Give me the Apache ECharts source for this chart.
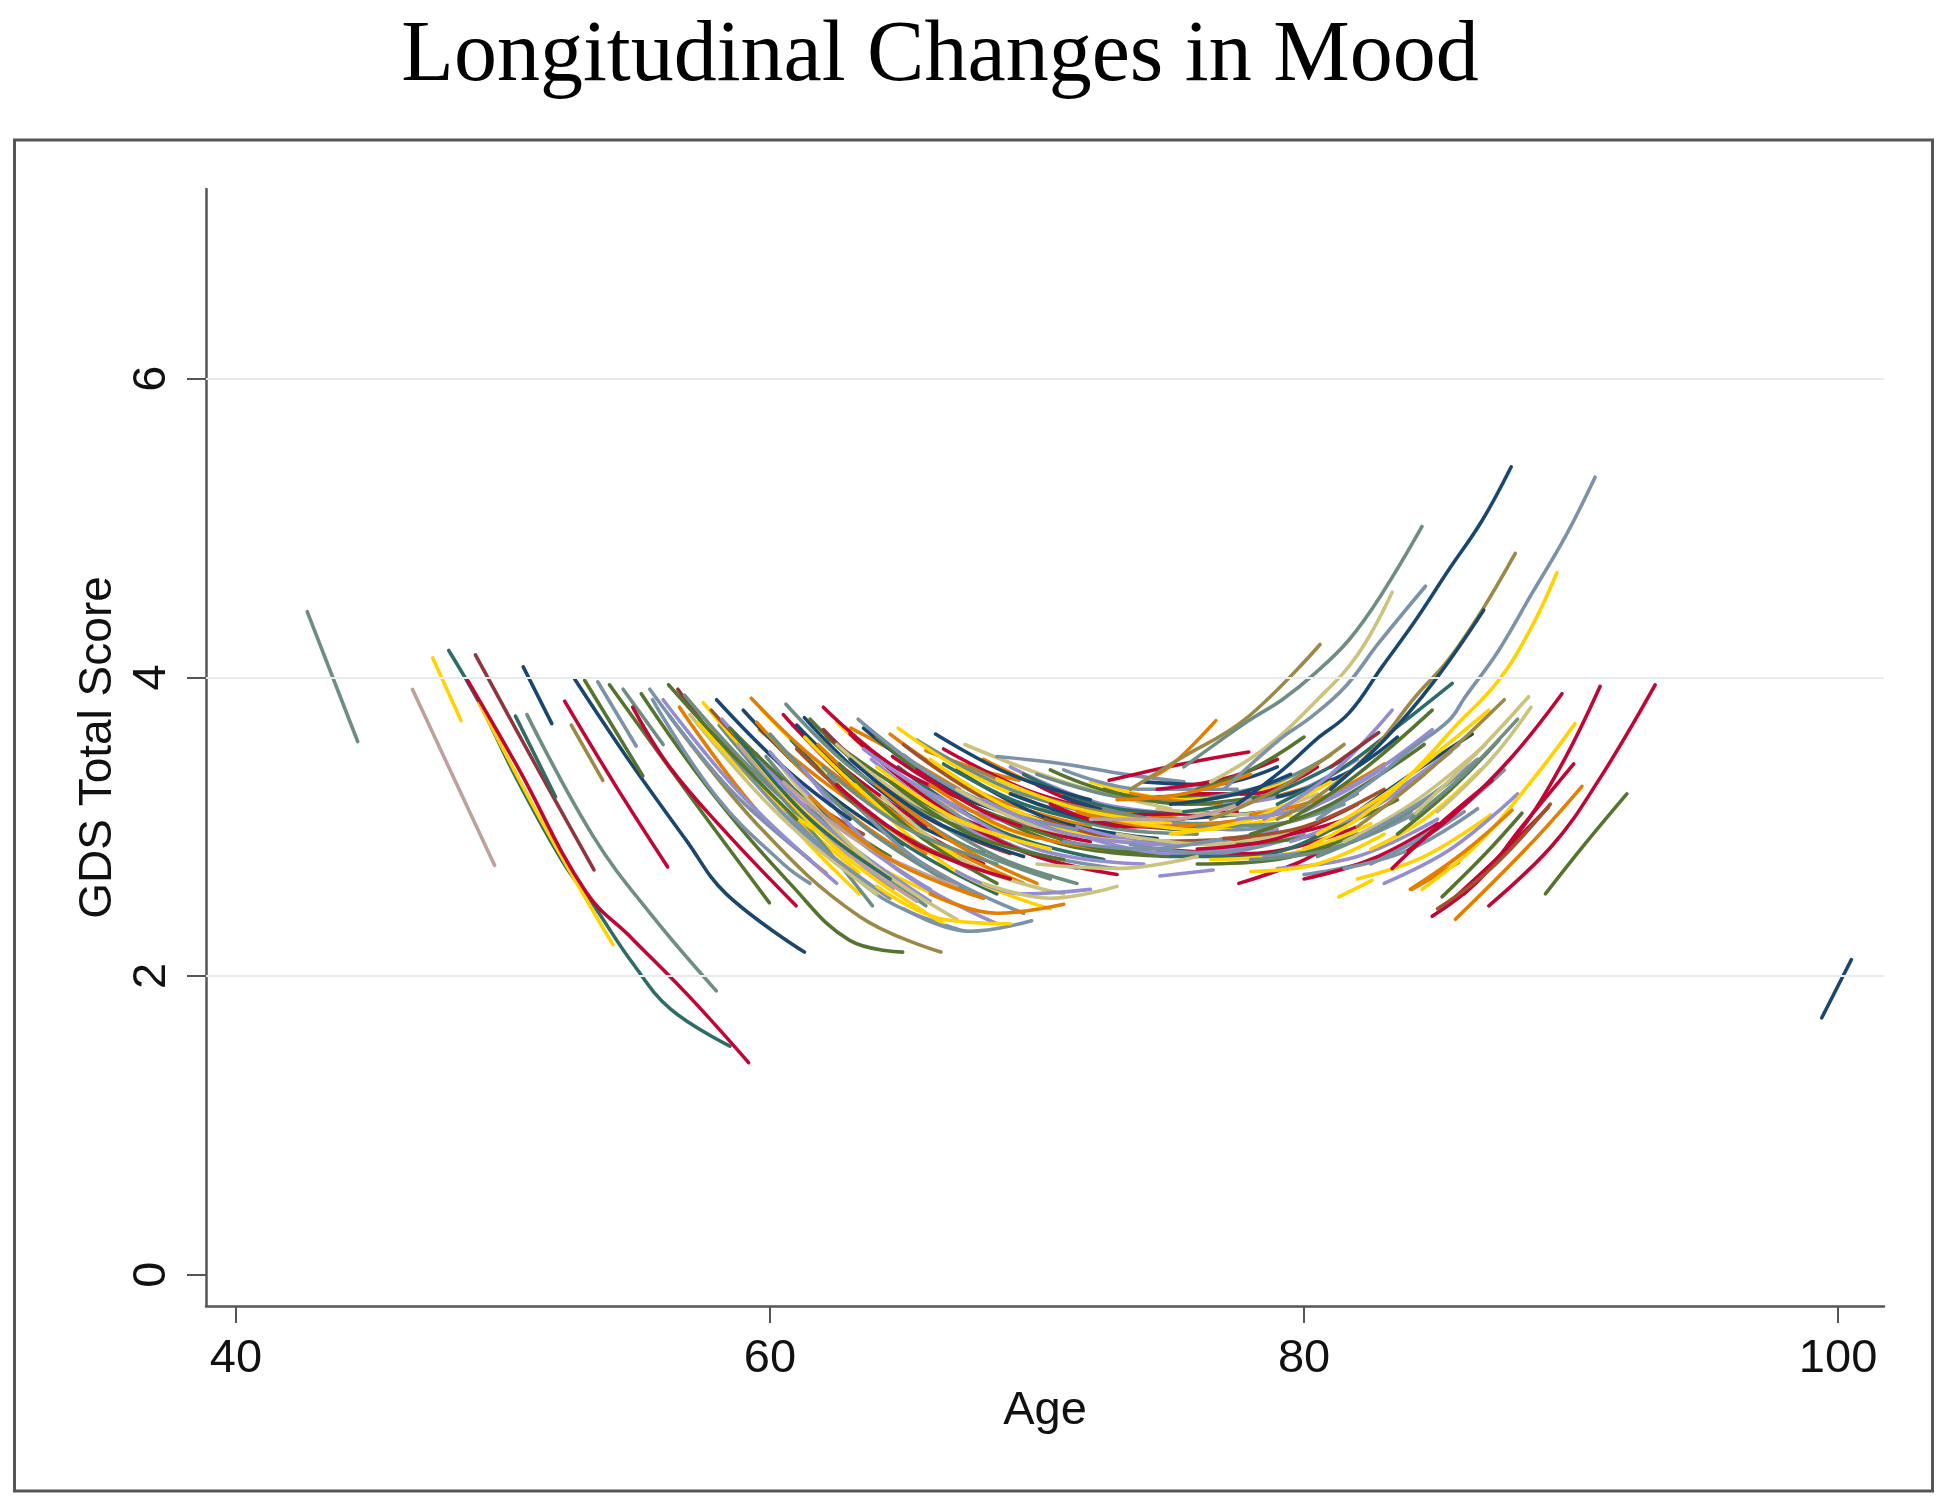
<!DOCTYPE html>
<html>
<head>
<meta charset="utf-8">
<script src="https://cdn.jsdelivr.net/npm/echarts@6/dist/echarts.min.js"></script>
<style>html,body{margin:0;padding:0;background:#fff}#c{width:1950px;height:1505px}</style>
</head>
<body>
<div id="c"></div>
<script>
// ---- axis ticks ----
const xTicks = [40, 60, 80, 100];
const yTicks = [0, 2, 4, 6];
const gridValues = [2, 4, 6];

// ---- curves: each entry is a flat list age, score, age, score ... ----
const earlyCurves = [
  [42.67,4.44, 44.56,3.57],
  [46.61,3.92, 49.69,2.74],
  [47.37,4.13, 48.43,3.71],
  [47.97,4.18, 49.11,3.83, 50.55,3.31, 52.26,2.76, 53.41,2.47, 54.84,2.09, 56.27,1.78, 58.5,1.53],
  [49.11,3.83, 51.5,3.02, 54.12,2.21],
  [48.68,3.98, 50.55,3.40, 53.12,2.56, 54.84,2.25, 56.99,1.86, 59.2,1.42],
  [48.97,4.15, 51.2,3.42, 53.41,2.71],
  [50.76,4.07, 51.83,3.69],
  [50.47,3.74, 51.97,3.20],
  [50.9,3.75, 53.4,2.93, 55.6,2.40, 57.99,1.90],
  [52.31,3.84, 54.2,3.28, 56.17,2.73],
  [52.56,3.68, 53.74,3.31],
  [52.68,3.99, 54.62,3.47, 56.86,2.91, 58.36,2.55, 61.29,2.16],
  [53.06,3.98, 55.24,3.34],
  [53.55,3.97, 54.99,3.54],
  [53.99,3.95, 57.11,3.18, 59.98,2.49],
  [54.5,3.92, 56.0,3.55],
  [54.86,3.80, 56.24,3.40, 58.36,2.96, 60.98,2.47],
  [55.18,3.89, 57.73,3.25, 60.85,2.60, 62.97,2.24, 64.97,2.16],
  [55.6,3.85, 58.0,3.20, 60.5,2.75, 61.5,2.62],
  [56.24,3.74, 59.6,3.00, 63.34,2.40, 66.4,2.16],
  [56.55,3.92, 57.6,3.67, 59.0,3.38],
  [56.61,3.80, 59.6,3.09, 62.1,2.69],
  [57.36,3.71, 59.1,3.40, 60.85,3.00, 63.34,2.55],
  [57.86,3.63, 60.1,3.20, 63.34,2.69],
  [58.1,3.68, 59.6,3.36, 61.8,2.92, 63.84,2.47],
  [59.48,3.49, 62.1,2.96, 64.6,2.58],
  [59.6,3.65, 62.1,3.29, 65.84,2.82],
  [59.67,3.79, 61.47,3.47, 63.5,3.18],
  [59.85,3.47, 62.72,2.91, 65.84,2.47],
  [60.85,3.13, 63.34,2.80, 67.09,2.47],
  [60.23,3.18, 63.97,2.55, 67.09,2.31],
  [60.85,3.68, 63.34,3.31, 65.84,3.00],
  [61.29,3.73, 63.34,3.36, 65.84,3.02],
  [62.1,3.60, 64.59,3.29, 67.71,2.96],
  [63.03,3.66, 64.59,3.51, 67.09,3.25],
  [64.59,3.47, 67.09,3.20, 69.33,3.09],
  [65.84,3.51, 67.5,3.40, 69.33,3.31]
];
const earlyColors = ['teal','erose','gold','emerald','gold','cran','maroon','navy','emerald','teal',
  'cran','brown','navy','forest','eblue','forest','teal','cran','forest','eblue',
  'brown','maroon','orange','gold','gold','teal','lav','orange','gold','teal',
  'gold','eblue','cran','navy','forest','orange','cran','orange'];

const midCurves = [
  [55.5,3.92, 58.5,3.25, 61.5,2.78],
  [56.0,3.85, 59.0,3.20, 62.5,2.62],
  [56.8,3.88, 59.5,3.35, 63.0,2.80],
  [57.0,3.75, 60.5,3.05, 64.0,2.55],
  [57.3,3.70, 60.0,3.20, 62.8,2.85],
  [57.5,3.83, 61.0,3.15, 65.0,2.62],
  [57.8,3.78, 60.5,3.30, 63.5,2.95],
  [58.0,3.60, 61.0,3.00, 64.5,2.52],
  [58.2,3.72, 62.0,3.02, 66.0,2.50],
  [58.5,3.66, 61.5,3.16, 64.5,2.80],
  [58.8,3.55, 62.0,2.95, 65.5,2.50],
  [59.0,3.78, 62.0,3.25, 65.0,2.88],
  [59.2,3.50, 62.5,2.85, 66.5,2.35],
  [59.5,3.70, 63.0,3.08, 67.0,2.62],
  [60.0,3.62, 63.5,3.00, 67.5,2.55],
  [60.2,3.45, 63.5,2.80, 67.0,2.38],
  [60.5,3.75, 64.0,3.15, 68.0,2.75],
  [60.8,3.58, 64.5,2.95, 68.5,2.55],
  [61.0,3.68, 64.5,3.12, 68.0,2.82],
  [61.2,3.40, 64.5,2.75, 68.5,2.35],
  [61.5,3.72, 65.0,3.18, 69.0,2.88],
  [61.8,3.55, 65.5,2.98, 69.5,2.62],
  [62.0,3.65, 65.5,3.10, 69.0,2.82],
  [62.2,3.35, 65.5,2.78, 69.5,2.42],
  [62.5,3.70, 66.0,3.20, 70.0,2.92],
  [62.8,3.50, 66.5,2.95, 70.5,2.65],
  [63.0,3.62, 66.5,3.12, 70.0,2.88],
  [63.2,3.28, 66.8,2.72, 70.5,2.45],
  [63.5,3.66, 67.0,3.22, 71.0,2.98],
  [63.8,3.45, 67.5,2.98, 71.5,2.72],
  [64.0,3.60, 67.5,3.15, 71.5,2.92],
  [64.2,3.20, 67.5,2.75, 71.0,2.55],
  [64.5,3.62, 68.0,3.22, 72.0,3.00],
  [64.8,3.40, 68.5,2.98, 72.5,2.78],
  [65.0,3.55, 68.5,3.15, 72.5,2.95],
  [65.3,3.30, 69.0,2.88, 73.0,2.72],
  [65.5,3.58, 69.0,3.25, 73.0,3.05],
  [66.0,3.45, 69.5,3.08, 73.5,2.90],
  [66.3,3.20, 70.0,2.85, 74.0,2.75],
  [66.5,3.52, 70.0,3.22, 74.0,3.05],
  [67.0,3.38, 70.5,3.05, 74.5,2.92],
  [67.3,3.55, 71.0,3.30, 75.0,3.12],
  [67.5,3.15, 71.0,2.88, 75.0,2.80],
  [68.0,3.45, 71.5,3.18, 75.5,3.05],
  [68.3,3.30, 72.0,3.02, 76.0,2.95],
  [68.5,3.47, 71.0,3.42, 73.3,3.35, 75.5,3.30],
  [69.0,3.40, 72.5,3.15, 76.5,3.08],
  [69.3,3.10, 73.0,2.90, 77.0,2.88],
  [69.5,3.35, 73.0,3.12, 77.0,3.08],
  [70.0,3.28, 73.5,3.08, 77.5,3.10],
  [70.3,3.05, 74.0,2.90, 78.0,2.92],
  [70.5,3.38, 74.0,3.20, 78.0,3.22],
  [71.0,3.20, 74.5,3.05, 78.5,3.10],
  [71.5,3.00, 75.0,2.88, 79.0,2.98],
  [72.0,3.30, 75.5,3.18, 79.5,3.30],
  [72.5,3.12, 76.0,3.02, 80.0,3.12],
  [73.0,2.95, 76.5,2.88, 80.5,3.02],
  [73.5,3.22, 77.0,3.15, 81.0,3.32],
  [74.0,3.05, 77.5,2.98, 81.5,3.15],
  [74.5,2.85, 78.0,2.82, 82.0,3.00]
];
const midColors = ['eblue','lav','teal','khaki','gold','gold','sienna','eblue','lav','forest',
  'erose','navy','gold','orange','teal','khaki','cran','emerald','navy','lav',
  'forest','orange','maroon','eblue','gold','teal','cran','gold','navy','lav',
  'forest','khaki','orange','emerald','sienna','eblue','teal','gold','lav','cran',
  'navy','khaki','forest','orange','teal','eblue','lav','gold','emerald','cran',
  'sienna','forest','navy','lav','gold','teal','khaki','orange','eblue','cran'];

const fillCurves = [
  [58.0,3.85, 60.5,3.40, 63.0,3.05],
  [58.7,3.62, 61.5,3.05, 64.5,2.65],
  [59.3,3.86, 61.5,3.48, 64.0,3.15],
  [60.0,3.50, 63.0,2.95, 66.0,2.58],
  [60.6,3.82, 63.0,3.40, 65.5,3.12],
  [61.3,3.60, 64.0,3.15, 67.0,2.80],
  [62.0,3.80, 64.5,3.42, 67.0,3.20],
  [62.6,3.42, 65.5,2.95, 68.5,2.62],
  [63.3,3.72, 66.0,3.35, 68.8,3.10],
  [64.0,3.28, 67.0,2.88, 70.0,2.62],
  [64.8,3.66, 67.5,3.35, 70.5,3.12],
  [65.5,3.12, 68.5,2.80, 71.5,2.62],
  [66.2,3.62, 69.0,3.35, 72.0,3.18],
  [67.0,3.05, 70.0,2.80, 73.0,2.68],
  [56.2,3.95, 58.5,3.50, 61.0,3.05]
];
const fillColors = ['navy','emerald','orange','lav','teal','gold','cran','forest','eblue','orange',
  'gold','teal','navy','cran','forest'];

const coreCurves = [
  [62.0,3.40, 65.0,3.00, 68.5,2.75],
  [62.5,3.55, 65.5,3.15, 69.0,2.92],
  [63.0,3.45, 66.0,3.05, 69.5,2.80],
  [63.5,3.52, 66.5,3.18, 70.0,2.98],
  [64.0,3.40, 67.0,3.05, 70.5,2.85],
  [64.5,3.30, 67.5,2.95, 71.0,2.78],
  [65.0,3.48, 68.0,3.15, 71.5,2.98],
  [65.5,3.38, 68.5,3.06, 72.0,2.90],
  [66.0,3.28, 69.0,2.98, 72.5,2.85],
  [66.5,3.42, 69.5,3.15, 73.0,3.00],
  [67.0,3.25, 70.0,3.00, 73.5,2.90],
  [67.5,3.40, 70.5,3.18, 74.0,3.05],
  [68.0,3.18, 71.0,2.96, 74.5,2.88],
  [68.5,3.32, 71.5,3.12, 75.0,3.02],
  [69.0,3.22, 72.0,3.05, 75.5,2.98],
  [69.5,3.00, 72.5,2.85, 76.0,2.82],
  [70.0,3.35, 73.0,3.20, 76.5,3.15],
  [70.5,3.15, 73.5,3.00, 77.0,3.00],
  [71.0,3.38, 74.0,3.25, 77.5,3.25],
  [71.5,3.10, 74.5,3.00, 78.0,3.05],
  [72.0,2.92, 75.0,2.82, 78.5,2.88],
  [72.5,3.25, 75.5,3.15, 79.0,3.22],
  [73.0,3.05, 76.0,2.98, 79.5,3.08],
  [73.5,2.88, 76.5,2.82, 80.0,2.95],
  [74.0,3.30, 76.5,3.28, 79.0,3.40],
  [74.5,3.12, 77.5,3.08, 80.5,3.22],
  [75.0,2.80, 78.0,2.80, 81.0,2.98],
  [75.5,3.22, 78.0,3.22, 80.5,3.40],
  [76.0,3.00, 79.0,3.02, 82.0,3.22],
  [76.5,2.78, 79.5,2.82, 82.5,3.02],
  [77.0,3.15, 79.5,3.22, 82.0,3.45],
  [77.5,2.88, 80.5,2.95, 83.5,3.18],
  [78.0,3.08, 80.5,3.18, 83.0,3.42],
  [78.5,2.80, 81.5,2.88, 84.5,3.12],
  [79.0,3.20, 81.5,3.35, 83.5,3.60],
  [79.5,2.95, 82.0,3.08, 84.5,3.35],
  [60.5,3.30, 63.5,2.88, 67.0,2.60],
  [61.0,3.52, 64.0,3.05, 67.5,2.72],
  [61.5,3.20, 64.5,2.78, 68.0,2.52],
  [62.5,3.28, 65.5,2.88, 69.0,2.65]
];
const coreColors = ['teal','khaki','navy','lav','gold','forest','eblue','cran','orange','emerald',
  'khaki','brown','lav','gold','navy','forest','teal','cran','eblue','orange',
  'lav','forest','gold','eblue','navy','khaki','emerald','cran','teal','gold',
  'lav','forest','orange','eblue','navy','cran','erose','sienna','orange','cran'];

const lowCurves = [
  [65.0,2.45, 67.5,2.30, 69.8,2.37],
  [64.0,2.60, 66.5,2.38, 69.0,2.35],
  [66.0,2.55, 68.5,2.42, 71.0,2.48],
  [67.0,2.70, 69.5,2.55, 72.0,2.58],
  [68.0,2.62, 70.5,2.52, 73.0,2.60],
  [74.6,2.67, 76.6,2.71],
  [77.56,2.62, 79.8,2.76, 81.0,2.88],
  [81.3,2.53, 82.55,2.64],
  [76.0,2.75, 79.0,2.78, 82.0,2.95],
  [78.0,2.78, 81.0,2.85, 84.0,3.10],
  [79.0,2.72, 82.0,2.80, 85.0,3.05],
  [80.0,2.68, 83.0,2.80, 86.0,3.10],
  [82.0,2.65, 84.5,2.80, 87.0,3.08],
  [84.04,2.58, 85.79,2.76],
  [80.0,2.65, 82.5,2.78, 85.0,3.02],
  [81.5,2.72, 84.0,2.85, 86.5,3.12],
  [70.0,2.75, 73.0,2.72, 76.0,2.80],
  [71.0,2.90, 74.0,2.85, 77.0,2.92]
];
const lowColors = ['eblue','gold','orange','lav','khaki','lav','cran','gold','forest','teal',
  'lav','eblue','gold','orange','cran','eblue','khaki','eblue'];

const lateCurves = [
  [75.0,2.95, 78.0,3.05, 81.0,3.30],
  [75.5,3.10, 78.5,3.20, 81.5,3.45],
  [76.0,2.85, 79.0,2.92, 82.0,3.15],
  [76.5,3.20, 79.0,3.30, 81.0,3.48],
  [77.0,2.92, 80.0,3.00, 83.0,3.25],
  [77.5,3.05, 80.5,3.15, 83.0,3.40],
  [78.0,2.70, 80.5,2.75, 83.0,2.95],
  [74.5,3.25, 77.0,3.32, 79.0,3.45],
  [75.0,3.15, 77.5,3.22, 79.5,3.35],
  [76.0,3.25, 78.0,3.38, 80.0,3.60],
  [73.0,3.18, 75.5,3.22, 78.0,3.35],
  [72.0,3.05, 75.0,3.05, 78.0,3.18],
  [72.7,3.31, 75.44,3.42, 77.93,3.50],
  [74.4,3.34, 75.1,3.42, 76.7,3.71],
  [73.5,3.25, 75.3,3.45, 77.8,3.72, 80.6,4.22],
  [78.0,2.95, 81.0,3.15, 84.5,3.55],
  [79.5,2.90, 82.5,3.12, 85.5,3.50],
  [80.5,2.80, 83.5,3.05, 86.5,3.45],
  [82.0,3.10, 84.0,3.35, 86.3,3.62],
  [81.5,2.90, 84.0,3.15, 86.8,3.55],
  [82.5,2.75, 85.0,3.00, 87.5,3.38],
  [83.0,2.62, 85.5,2.85, 88.0,3.22],
  [76.5,3.05, 79.0,3.25, 81.5,3.55],
  [80.0,3.10, 82.5,3.35, 84.8,3.65],
  [81.0,3.00, 83.5,3.25, 85.8,3.55],
  [82.0,2.92, 84.5,3.18, 86.5,3.45],
  [82.5,2.85, 84.5,3.05, 86.6,3.38],
  [83.5,2.95, 85.5,3.25, 87.3,3.58],
  [84.0,3.05, 86.0,3.35, 88.0,3.72],
  [85.0,3.10, 87.0,3.45, 88.5,3.80],
  [75.5,3.40, 77.93,3.71, 79.18,3.85, 80.43,4.03, 81.68,4.25, 82.92,4.56, 84.42,5.01],
  [76.5,3.30, 78.5,3.52, 80.5,3.85, 82.0,4.15, 83.3,4.57],
  [77.0,3.25, 79.06,3.58, 80.31,3.74, 81.56,3.94, 82.8,4.23, 84.55,4.61],
  [79.0,3.15, 81.5,3.40, 83.5,3.67, 85.55,3.96],
  [79.5,3.05, 82.0,3.35, 84.8,3.78],
  [78.5,3.05, 81.0,3.35, 83.3,3.78],
  [81.0,3.40, 82.8,3.63],
  [80.5,2.95, 83.05,3.22, 85.3,3.54, 86.92,3.78],
  [82.0,3.00, 84.5,3.35, 87.5,3.85],
  [84.17,3.09, 86.5,3.50, 88.41,3.87],
  [79.0,3.05, 80.5,3.20, 82.5,3.50, 84.17,3.87, 85.42,4.12, 86.67,4.45, 87.91,4.83],
  [81.0,3.25, 83.0,3.58, 84.9,3.98, 86.73,4.45],
  [77.5,3.15, 79.2,3.38, 80.43,3.58, 81.68,3.76, 82.92,4.07, 84.17,4.38, 85.42,4.72, 86.67,5.05, 87.76,5.41],
  [80.0,2.85, 82.0,3.05, 84.0,3.35, 85.66,3.67, 87.29,3.98, 88.53,4.34, 89.47,4.70],
  [80.5,3.05, 82.5,3.30, 84.0,3.52, 85.42,3.71, 86.04,3.87, 87.29,4.18, 88.53,4.56, 89.78,4.94, 90.90,5.34],
  [83.9,2.84, 85.8,3.11, 87.8,3.47, 89.66,3.89],
  [84.8,2.40, 86.54,2.64, 88.16,3.00, 90.1,3.42],
  [86.0,2.55, 88.0,2.95, 89.6,3.40, 91.09,3.94],
  [86.92,2.47, 89.28,2.87, 91.03,3.31, 93.15,3.95],
  [85.3,2.47, 87.3,2.80, 89.15,3.13],
  [84.42,2.58, 86.54,2.89, 88.54,3.31, 90.15,3.69],
  [85.67,2.38, 88.41,2.87, 90.41,3.27],
  [83.98,2.58, 85.92,2.82, 87.79,3.11],
  [85.17,2.53, 86.8,2.82, 88.16,3.09],
  [85.0,2.45, 87.0,2.72, 89.22,3.15],
  [83.3,2.72, 85.29,3.05, 87.04,3.31],
  [89.04,2.55, 90.5,2.88, 92.09,3.22],
  [99.39,1.72, 100.5,2.11]
];
const lateColors = ['gold','emerald','cran','teal','sienna','lav','gold','cran','navy','forest',
  'orange','erose','cran','orange','brown','forest','lav','teal','navy','khaki',
  'eblue','lav','brown','lav','lav','eblue','gold','forest','teal','khaki',
  'teal','khaki','eblue','emerald','forest','lav','maroon','gold','brown','khaki',
  'brown','navy','navy','gold','eblue','cran','cran','cran','cran','cran',
  'gold','orange','orange','forest','sienna','cran','forest','navy'];

// ---- styling ----
const palette = {
  navy:'#1a476f', maroon:'#90353b', forest:'#55752f', orange:'#e37e00', teal:'#6e8e84',
  cran:'#c10534', lav:'#938dd2', khaki:'#cac27e', sienna:'#a0522d', eblue:'#7b92a8',
  emerald:'#2d6d66', brown:'#9c8847', erose:'#bfa19c', gold:'#ffd200'
};
const FONT = 'Liberation Sans, Arial, sans-serif';

const series = [{
  type: 'line', data: [[70, -5]], showSymbol: false, symbol: 'none', silent: true, z: 1,
  lineStyle: {width: 0},
  markLine: {
    silent: true, symbol: 'none', label: {show: false}, animation: false,
    lineStyle: {color: '#e8ebeb', width: 2, type: 'solid'},
    data: gridValues.map(v => ({yAxis: v}))
  }
}];

function addGroup(curves, colors) {
  curves.forEach((c, i) => {
    const pts = [];
    for (let k = 0; k < c.length; k += 2) pts.push([c[k], c[k + 1]]);
    series.push({
      type: 'line', data: pts, showSymbol: false, symbol: 'none', smooth: 0.4,
      silent: true, z: 2,
      lineStyle: {width: 3.6, color: palette[colors[i]], cap: 'round'}
    });
  });
}
addGroup(earlyCurves, earlyColors);
addGroup(midCurves, midColors);
addGroup(fillCurves, fillColors);
addGroup(coreCurves, coreColors);
addGroup(lowCurves, lowColors);
addGroup(lateCurves, lateColors);

const chart = echarts.init(document.getElementById('c'), null, {renderer: 'canvas'});
chart.setOption({
  animation: false,
  backgroundColor: '#ffffff',
  grid: {left: 206, top: 189, right: 66, bottom: 199, containLabel: false},
  xAxis: {
    type: 'value', min: 38.88, max: 101.72,
    axisLine: {show: true, onZero: false, lineStyle: {color: '#555', width: 2.5}},
    axisTick: {show: true, length: 17, customValues: xTicks, lineStyle: {color: '#555', width: 2}},
    axisLabel: {customValues: xTicks, fontSize: 47, fontFamily: FONT, color: '#111', margin: 30},
    splitLine: {show: false},
    name: 'Age', nameLocation: 'middle', nameGap: 77,
    nameTextStyle: {fontSize: 47, fontFamily: FONT, color: '#111'}
  },
  yAxis: {
    type: 'value', min: -0.21, max: 7.27,
    axisLine: {show: true, onZero: false, lineStyle: {color: '#555', width: 2.5}},
    axisTick: {show: true, length: 19, customValues: yTicks, lineStyle: {color: '#555', width: 2}},
    axisLabel: {customValues: yTicks, rotate: 90, fontSize: 47, fontFamily: FONT, color: '#111', margin: 30},
    splitLine: {show: false},
    name: 'GDS Total Score', nameLocation: 'middle', nameRotate: 90, nameGap: 80,
    nameTextStyle: {fontSize: 46, fontFamily: FONT, color: '#111'}
  },
  graphic: [
    {type: 'text', x: 940, y: 14, z: 10,
     style: {text: 'Longitudinal Changes in Mood', fontSize: 86, fontFamily: 'Liberation Serif, Times New Roman, serif',
             fill: '#000', align: 'center', verticalAlign: 'top'}},
    {type: 'rect', z: 10, shape: {x: 14.5, y: 140, width: 1918, height: 1351},
     style: {fill: 'none', stroke: '#555', lineWidth: 3}}
  ],
  series: series
});
</script>
</body>
</html>
